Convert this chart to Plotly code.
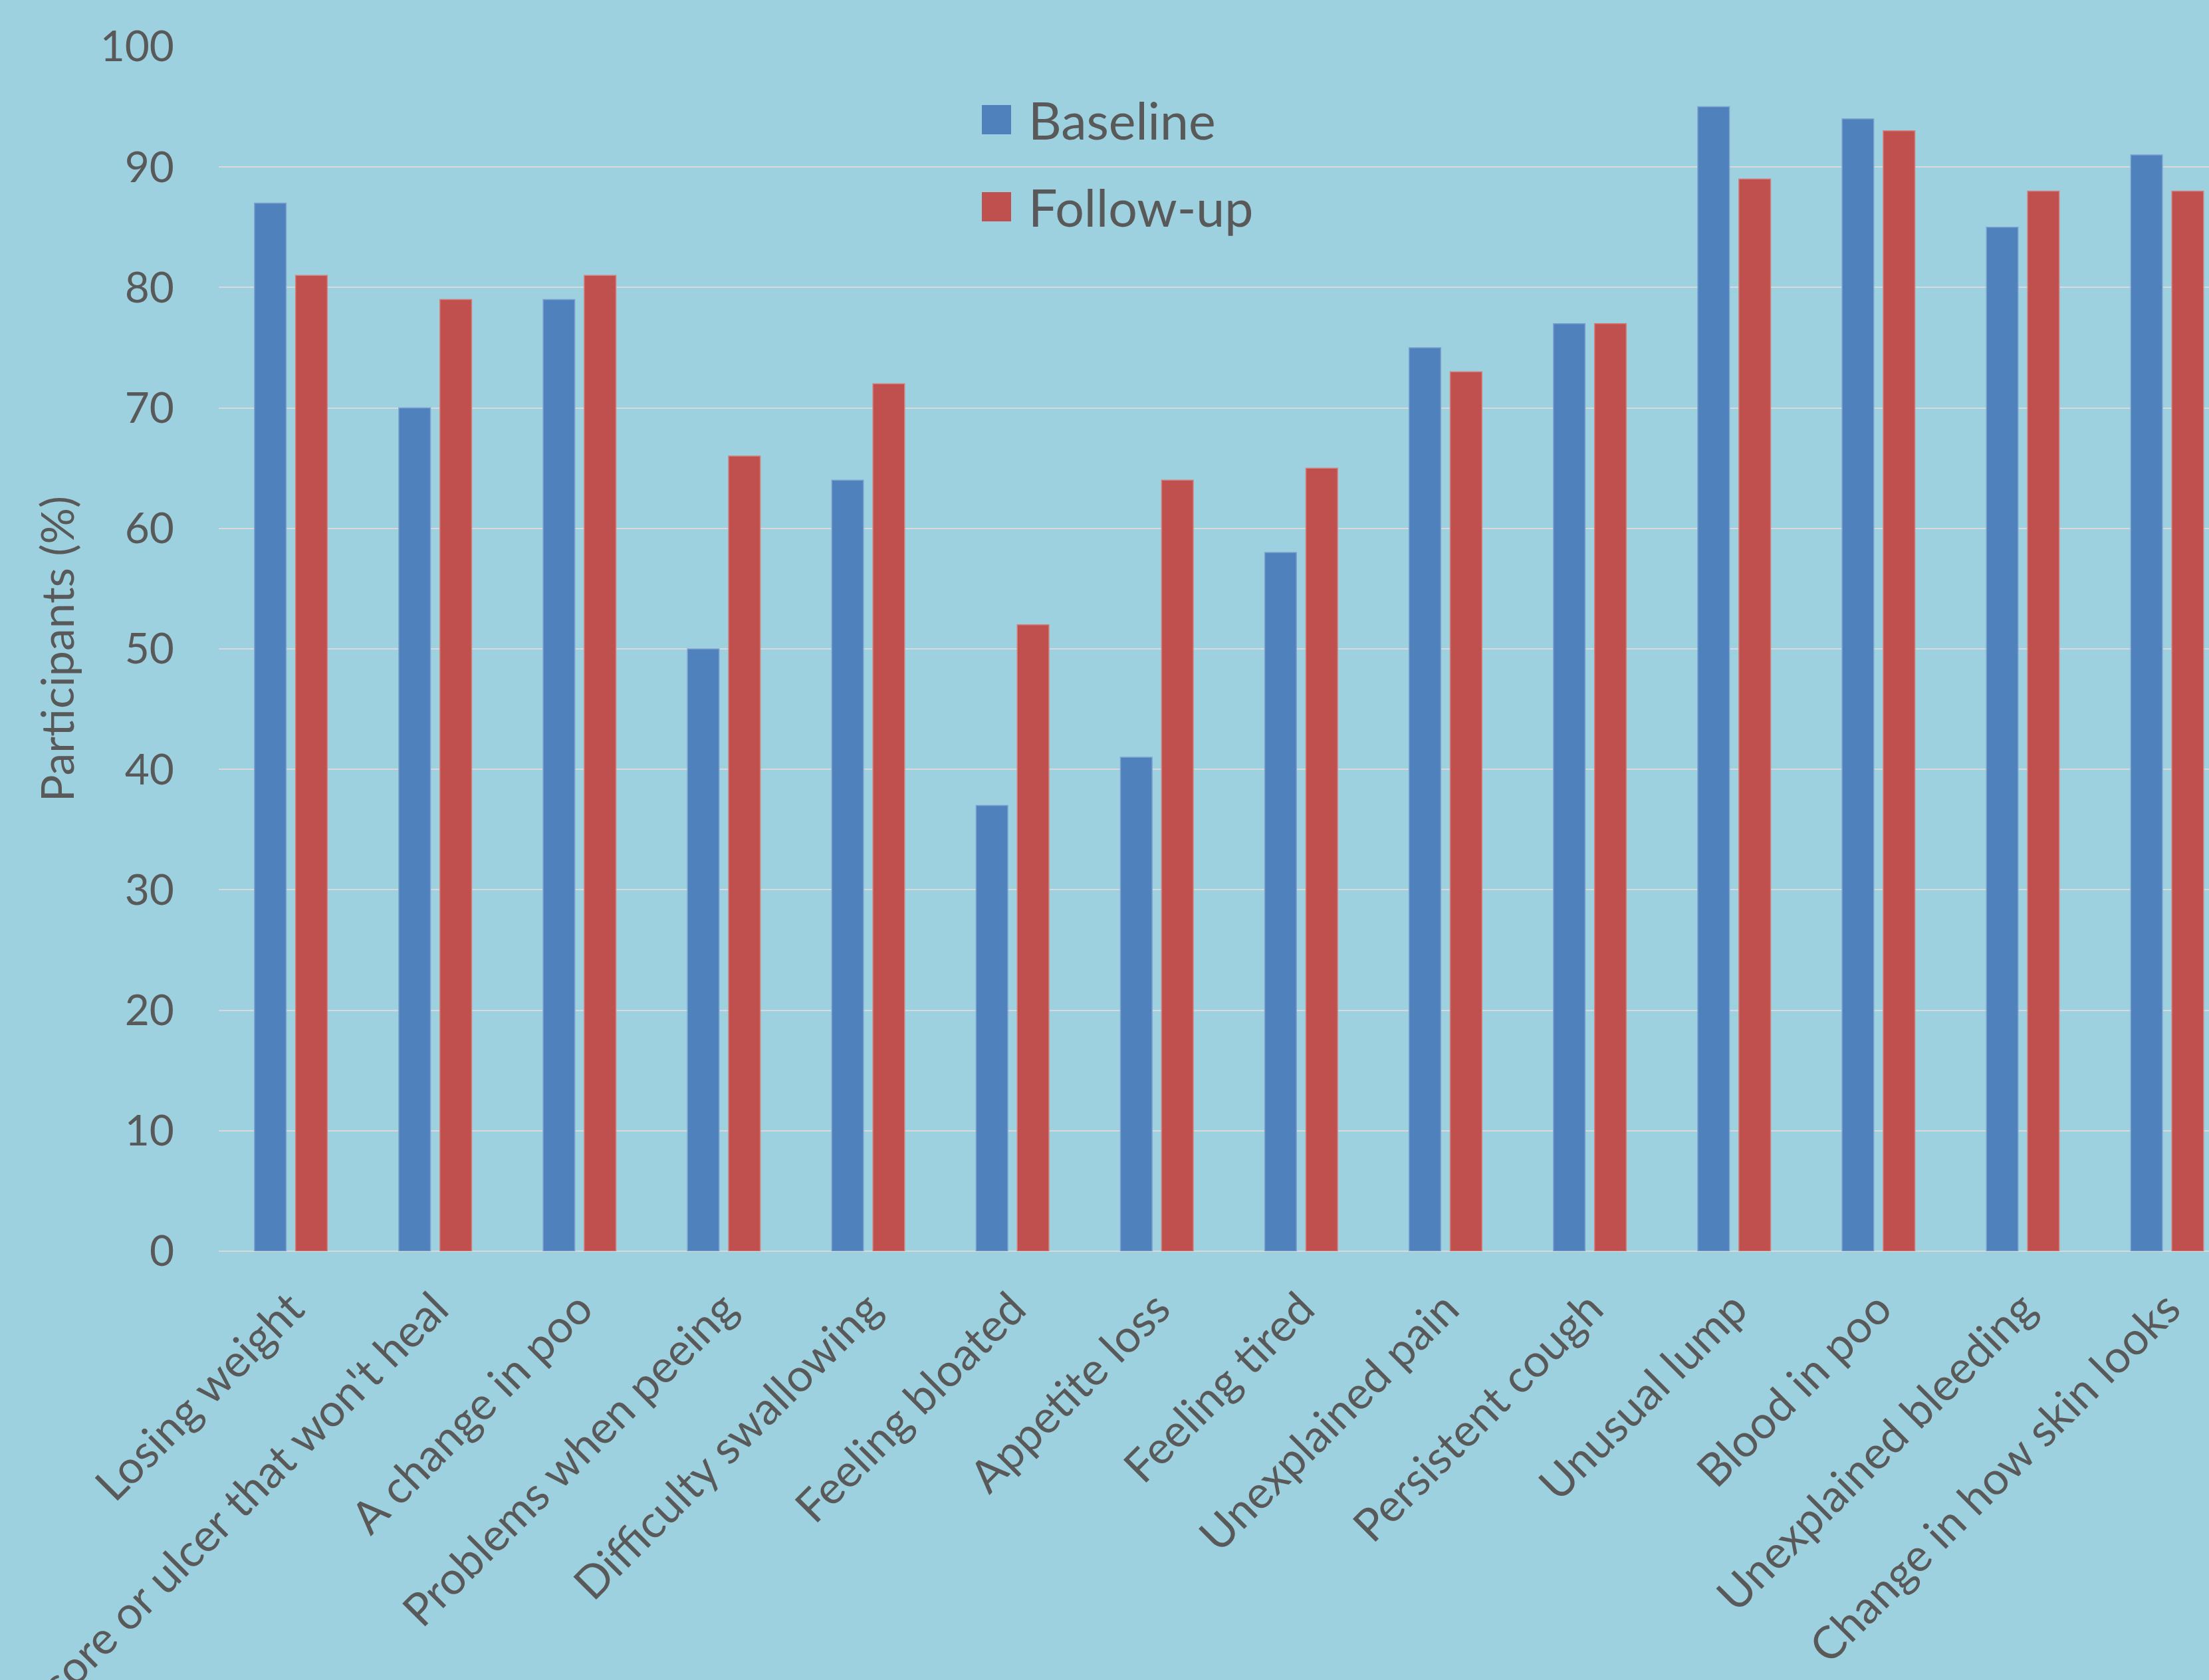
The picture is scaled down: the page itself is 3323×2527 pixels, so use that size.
import plotly.graph_objects as go

categories = [
    "Losing weight", "A sore or ulcer that won't heal", "A change in poo",
    "Problems when peeing", "Difficulty swallowing", "Feeling bloated",
    "Appetite loss", "Feeling tired", "Unexplained pain", "Persistent cough",
    "Unusual lump", "Blood in poo", "Unexplained bleeding", "Change in how skin looks",
]
baseline = [87, 70, 79, 50, 64, 37, 41, 58, 75, 77, 95, 94, 85, 91]
follow_up = [81, 79, 81, 66, 72, 52, 64, 65, 73, 77, 89, 93, 88, 88]
series_names = ["Baseline", "Follow-up"]
y_ticks = [0, 10, 20, 30, 40, 50, 60, 70, 80, 90, 100]

BLUE = "#4F81BD"
RED = "#C0504D"
BG = "#9DD1DF"
TXT = "#595959"
FONT = "Lato"

W, H = 3323, 2527
ML, MR, MT, MB = 329, 0, 70, 645

fig = go.Figure()
fig.add_trace(go.Bar(x=categories, y=baseline, name=series_names[0],
                     marker=dict(color=BLUE, line=dict(color="#7FA3D0", width=1.5)),
                     showlegend=False))
fig.add_trace(go.Bar(x=categories, y=follow_up, name=series_names[1],
                     marker=dict(color=RED, line=dict(color="#D47F7C", width=1.5)),
                     showlegend=False))

pw = W - ML - MR
ph = H - MT - MB
# legend keys (squares) and labels
leg_rows = [(series_names[0], BLUE, 180), (series_names[1], RED, 311)]
sq = 44
sq_left = 1477
for name, col, yc in leg_rows:
    x0 = (sq_left - ML) / pw
    x1 = (sq_left + sq - ML) / pw
    y0 = 1 - (yc + sq / 2 - MT) / ph
    y1 = 1 - (yc - sq / 2 - MT) / ph
    fig.add_shape(type="rect", xref="paper", yref="paper", x0=x0, x1=x1, y0=y0, y1=y1,
                  fillcolor=col, line=dict(width=0), layer="above")
    fig.add_annotation(xref="paper", yref="paper", x=(1545 - ML) / pw, y=1 - (yc - MT) / ph,
                       xanchor="left", yanchor="middle", text=name, showarrow=False,
                       font=dict(family=FONT, size=77, color=TXT))

fig.update_layout(
    width=W, height=H,
    margin=dict(l=ML, r=MR, t=MT, b=MB, pad=0),
    paper_bgcolor=BG, plot_bgcolor=BG,
    barmode="group", bargap=0.43, bargroupgap=0.23,
    font=dict(family=FONT, color=TXT),
    showlegend=False,
)
fig.update_xaxes(
    range=[-0.5, 13.29], tickangle=-45, automargin=False,
    tickfont=dict(family=FONT, size=68, color=TXT),
    ticklabelstandoff=32,
    showgrid=False, showline=False, ticks="",
)
fig.update_yaxes(
    range=[0, 100], tickvals=y_ticks, automargin=False,
    tickfont=dict(family=FONT, size=64, color=TXT),
    ticklabelstandoff=66,
    showgrid=True, gridcolor="#D9D9D9", gridwidth=2,
    zeroline=True, zerolinecolor="#D9D9D9", zerolinewidth=2,
    showline=False, ticks="",
    title=dict(text="Participants (%)", font=dict(family=FONT, size=68, color=TXT), standoff=16),
)

fig.write_html("out.html")
